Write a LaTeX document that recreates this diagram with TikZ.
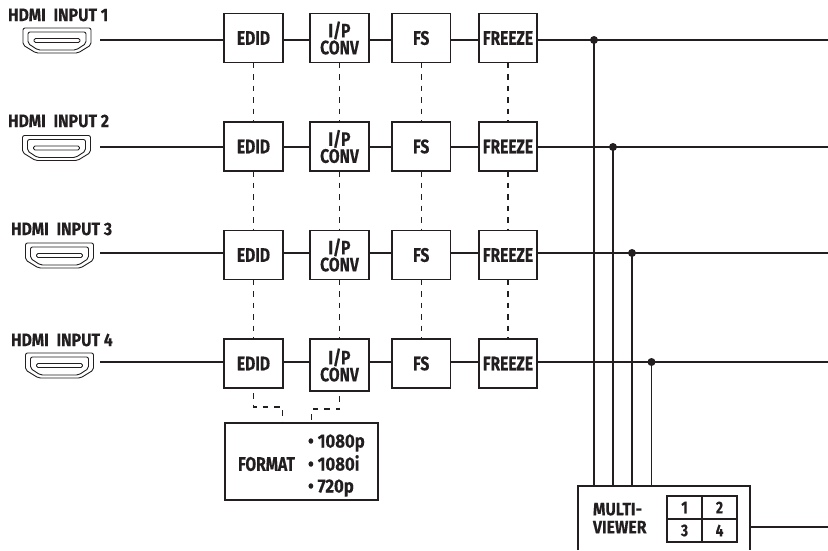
\documentclass[tikz,border=0pt]{standalone}
\usepackage{fontspec}
\newfontfamily\labfont[FakeStretch=0.8,FakeBold=0.25]{Fira Sans}
\newfontfamily\widefont[FakeStretch=0.88,FakeBold=0.25]{Fira Sans}
\definecolor{ink}{HTML}{231F20}
\tikzset{
  x=1pt,y=-1pt,
  every node/.style={inner sep=0pt,outer sep=0pt,text=ink,font=\labfont\bfseries\fontsize{19.5}{17}\selectfont},
  block/.style={draw=ink,line width=1.1pt,minimum width=#1,minimum height=49pt,align=center},
  block/.default=59pt,
  wire/.style={draw=ink,line width=1.1pt},
  dashwire/.style={draw=ink,line width=1.1pt,dash pattern=on 5.5pt off 6pt},
  dot/.style={circle,fill=ink,minimum size=8pt},
  hdmilab/.style={anchor=west,font=\widefont\bfseries\fontsize{18}{18}\selectfont},
  cell/.style={draw=ink,line width=1.1pt,minimum width=35pt,minimum height=23pt,font=\labfont\bfseries\fontsize{17}{17}\selectfont},
  iconline/.style={draw=ink,line width=0.9pt,line join=round},
  optlab/.style={anchor=base west,font=\widefont\bfseries\fontsize{19}{19}\selectfont},
}
\newcommand{\hdmiicon}[3]{%
  \node[minimum width=68pt,minimum height=25pt] (#1) at (#2,#3) {};
  \draw[iconline,rounded corners=2pt] ($(#1)+(-34,-12.5)$) -- ($(#1)+(34,-12.5)$) -- ($(#1)+(34,4.5)$) -- ($(#1)+(21,12.5)$) -- ($(#1)+(-21,12.5)$) -- ($(#1)+(-34,4.5)$) -- cycle;
  \draw[iconline,rounded corners=2pt] ($(#1)+(-29,-8.5)$) -- ($(#1)+(29,-8.5)$) -- ($(#1)+(29,3)$) -- ($(#1)+(19,9.5)$) -- ($(#1)+(-19,9.5)$) -- ($(#1)+(-29,3)$) -- cycle;
  \draw[iconline,rounded corners=1.5pt] ($(#1)+(-23,-2)$) rectangle ($(#1)+(23,2)$);
}
\usetikzlibrary{calc}
\begin{document}
\begin{tikzpicture}
\useasboundingbox (0,0) rectangle (828,550);
% labels
\node[hdmilab] (l1) at (8,15) {HDMI\hspace{4pt} INPUT 1};
\node[hdmilab] (l2) at (8,121) {HDMI\hspace{4pt} INPUT 2};
\node[hdmilab] (l3) at (11,229) {HDMI\hspace{4pt} INPUT 3};
\node[hdmilab] (l4) at (11,340) {HDMI\hspace{4pt} INPUT 4};
% icons
\hdmiicon{c1}{57}{40.5}
\hdmiicon{c2}{56.5}{148}
\hdmiicon{c3}{59.5}{255.5}
\hdmiicon{c4}{59.5}{365.5}
% row levels and free ends
\coordinate (a1) at (100,40);
\coordinate (a2) at (100,147);
\coordinate (a3) at (100,253);
\coordinate (a4) at (100,362);
\coordinate (z1) at (828,40);
\coordinate (z2) at (828,147);
\coordinate (z3) at (828,253);
\coordinate (z4) at (828,362);
% blocks
\foreach \r/\y in {1/38,2/146.5,3/255,4/363.5}{
  \node[block] (e\r) at (253.5,\y) {EDID};
  \node[block=58.5pt] (f\r) at (421.25,\y) {FS};
  \node[block=58pt] (z\r b) at (508,\y) {FREEZE};
}
\node[block] (p1) at (339.5,38) {I/P\\CONV};
\node[block] (p2) at (339.5,146.5) {I/P\\CONV};
\node[block] (p3) at (339.5,255) {I/P\\CONV};
\node[block,minimum height=52pt] (p4) at (339.5,365) {I/P\\CONV};
% horizontal wires
\foreach \r in {1,2,3,4}{
  \draw[wire] (a\r) -- (e\r.west |- a\r);
  \draw[wire] (e\r.east |- a\r) -- (p\r.west |- a\r);
  \draw[wire] (p\r.east |- a\r) -- (f\r.west |- a\r);
  \draw[wire] (f\r.east |- a\r) -- (z\r b.west |- a\r);
  \draw[wire] (z\r b.east |- a\r) -- (z\r);
}
% dashed verticals
\foreach \n in {e,p,f}{
  \draw[dashwire] (\n1) ++(0,24.5) -- (\n2.north);
  \draw[dashwire] (\n2) ++(0,24.5) -- (\n3.north);
  \draw[dashwire] (\n3) ++(0,24.5) -- (\n4.north);
}
\draw[dashwire] (z1b.south) -- (z2b.north);
\draw[dashwire] (z2b.south) -- (z3b.north);
\draw[dashwire] (z3b.south) -- (z4b.north);
% format
\node[draw=ink,line width=1.1pt,minimum width=153pt,minimum height=77pt] (fmt) at (301.5,461.5) {};
\node[anchor=center] (fmtl) at (266.5,464) {FORMAT};
\node[optlab] (o1) at (308,447.5) {\textbullet\ 1080p};
\node[optlab] (o2) at (308,470.5) {\textbullet\ 1080i};
\node[optlab] (o3) at (308,492.5) {\textbullet\ 720p};
\coordinate (fa) at (282.5,423);
\coordinate (fb) at (311.5,423);
\draw[dashwire] (e4.south) ++(0,5) |- (282.5,407) -- (fa);
\draw[dashwire] (p4.south) ++(0,5) |- (311.5,409) -- (fb);
% multiviewer
\node[minimum width=172pt,minimum height=64pt] (mv) at (664,518) {};
\draw[wire] (mv.south west) -- (mv.north west) -- (mv.north east) -- (mv.south east);
\node[anchor=west,align=left,font=\widefont\bfseries\fontsize{18}{18}\selectfont] (mvl) at (593,518) {MULTI-\\VIEWER};
\node[cell] (g1) at (684.5,507.5) {1};
\node[cell] (g2) at (719.5,507.5) {2};
\node[cell] (g3) at (684.5,530.5) {3};
\node[cell] (g4) at (719.5,530.5) {4};
\coordinate (out) at (828,527);
\draw[wire] (mv.east |- out) -- (out);
% junctions
\node[dot] (d1) at (594,40) {};
\node[dot] (d2) at (613,147) {};
\node[dot] (d3) at (632,253) {};
\node[dot] (d4) at (651.5,362) {};
\foreach \k in {1,2,3,4}{\draw[wire] (d\k.center) -- (mv.north -| d\k);}
\end{tikzpicture}
\end{document}
